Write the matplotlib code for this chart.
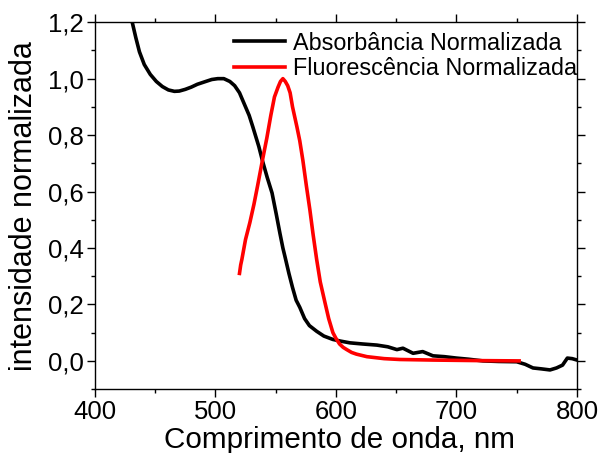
import matplotlib
matplotlib.use("Agg")
import matplotlib.pyplot as plt
from matplotlib.ticker import MultipleLocator, FuncFormatter

plt.rcParams['font.family'] = ['Liberation Sans', 'DejaVu Sans']

# absorbance spectrum (normalized)
abs_nm = [428, 431, 434, 437, 441, 446, 451, 456, 461, 466, 470, 475, 480, 485, 492,
          497, 502, 507, 512, 516, 520, 524, 528, 531, 536, 539, 543, 547, 550.5, 553.5,
          556, 557.7, 561, 564, 567, 570, 574, 578, 584, 590, 597.5, 604, 611.6, 622,
          634, 643, 650.6, 655.6, 664, 672, 680.5, 690, 700, 710, 722, 735, 750, 757,
          763.5, 770, 777.6, 783, 788, 792, 796, 800]
abs_val = [1.22, 1.20, 1.145, 1.095, 1.05, 1.015, 0.99, 0.972, 0.96, 0.955, 0.956, 0.962,
           0.97, 0.98, 0.99, 0.997, 1.0, 1.0, 0.99, 0.975, 0.95, 0.91, 0.87, 0.83, 0.76,
           0.71, 0.65, 0.595, 0.52, 0.453, 0.40, 0.37, 0.31, 0.26, 0.215, 0.19, 0.15,
           0.125, 0.105, 0.088, 0.076, 0.07, 0.064, 0.06, 0.056, 0.05, 0.04, 0.045,
           0.027, 0.033, 0.018, 0.015, 0.01, 0.006, 0.0, -0.002, -0.003, -0.012, -0.025,
           -0.028, -0.032, -0.025, -0.015, 0.01, 0.008, 0.003]

# fluorescence spectrum (normalized)
fl_nm = [520, 521, 522, 525, 528.6, 532, 535, 539, 542.7, 546, 549, 552, 554, 556, 558,
         560, 562, 564, 567.6, 570, 572.6, 575.5, 578.4, 581, 584, 587, 591, 594, 597.5,
         600, 603, 606, 609, 613, 617, 625.7, 640, 653, 680, 720, 752]
fl_val = [0.31, 0.34, 0.36, 0.43, 0.49, 0.555, 0.62, 0.71, 0.79, 0.87, 0.935, 0.97, 0.99,
          1.0, 0.99, 0.975, 0.95, 0.9, 0.83, 0.78, 0.71, 0.62, 0.535, 0.45, 0.36, 0.28,
          0.205, 0.15, 0.10, 0.08, 0.06, 0.048, 0.04, 0.03, 0.024, 0.015, 0.008, 0.005,
          0.003, 0.001, 0.0]

fig = plt.figure(figsize=(6.08, 4.53), dpi=100)
ax = fig.add_axes([0.156, 0.141, 0.793, 0.81])

ax.plot(abs_nm, abs_val, color='black', lw=2.6, label='Absorbância Normalizada')
ax.plot(fl_nm, fl_val, color='red', lw=2.6, label='Fluorescência Normalizada')

ax.set_xlim(400, 800)
ax.set_ylim(-0.1, 1.2)
ax.xaxis.set_major_locator(MultipleLocator(100))
ax.xaxis.set_minor_locator(MultipleLocator(50))
ax.yaxis.set_major_locator(MultipleLocator(0.2))
ax.yaxis.set_minor_locator(MultipleLocator(0.1))
ax.yaxis.set_major_formatter(FuncFormatter(lambda v, p: f"{v:.1f}".replace('.', ',')))

ax.tick_params(which='both', direction='out', top=True, right=True,
               labelsize=18.5, width=1, pad=2)
ax.tick_params(which='major', length=6)
ax.tick_params(which='minor', length=3)
ax.tick_params(axis='y', which='both', right=True, direction='in')
ax.tick_params(axis='y', which='both', left=True, direction='out')
for s in ax.spines.values():
    s.set_linewidth(1)

ax.set_xlabel('Comprimento de onda, nm', fontsize=21.3)
ax.set_ylabel('intensidade normalizada', fontsize=22)
ax.xaxis.set_label_coords(0.508, -0.1, transform=ax.transAxes)
ax.xaxis.label.set_va('top')
ax.yaxis.set_label_coords(-0.115, 0.5)

ax.legend(loc='upper right', bbox_to_anchor=(1.02, 1.0), frameon=False,
          fontsize=16.8, handlelength=2.2, handletextpad=0.35, borderaxespad=0,
          borderpad=0.4, labelspacing=0.1)

fig.savefig('out.png', dpi=100)
